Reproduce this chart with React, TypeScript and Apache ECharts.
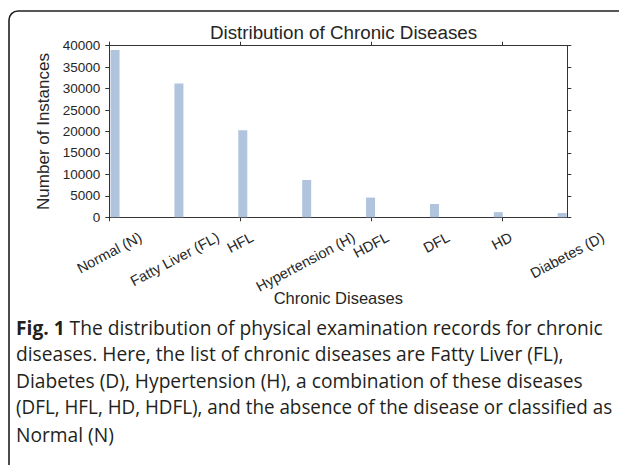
import React, { useEffect, useRef } from "react";
import * as echarts from "echarts";

const CATEGORIES = [
  "Normal (N)",
  "Fatty Liver (FL)",
  "HFL",
  "Hypertension (H)",
  "HDFL",
  "DFL",
  "HD",
  "Diabetes (D)",
];
const COUNTS = [39000, 31200, 20300, 8700, 4600, 3100, 1200, 1000];
const Y_MIN = 0;
const Y_MAX = 40000;
const Y_STEP = 5000;
const TITLE = "Distribution of Chronic Diseases";
const X_NAME = "Chronic Diseases";
const Y_NAME = "Number of Instances";
const CAPTION_BOLD = "Fig. 1";
const CAPTION_LINES = [
  " The distribution of physical examination records for chronic",
  "diseases. Here, the list of chronic diseases are Fatty Liver (FL),",
  "Diabetes (D), Hypertension (H), a combination of these diseases",
  "(DFL, HFL, HD, HDFL), and the absence of the disease or classified as",
  "Normal (N)",
];

const FONT = "'Liberation Sans', Arial, sans-serif";
const CAP_FONT = "'Open Sans', 'Noto Sans', sans-serif";
const AXIS_COLOR = "#333333";
const TEXT_COLOR = "#262626";
const BAR_COLOR = "#b0c4de";
const LABEL_SIZE = 14.5;
const LABEL_ROT = 28;
const CAP_SIZE = 19.2;
const CAP_MAX_W = 596;

export default function App() {
  const ref = useRef<HTMLDivElement>(null);
  useEffect(() => {
    if (!ref.current) return;
    const chart = echarts.init(ref.current, undefined, { renderer: "svg" });
    const axisLine = { show: true, onZero: false, lineStyle: { color: AXIS_COLOR, width: 1 } };
    const tick = { show: true, inside: false, length: 4, lineStyle: { color: AXIS_COLOR } };
    const option: any = {
      animation: false,
      backgroundColor: "#ffffff",
      title: {
        text: TITLE,
        left: 338.5,
        textAlign: "center",
        top: 18,
        textStyle: { fontFamily: FONT, fontSize: 18.8, fontWeight: "normal", color: TEXT_COLOR },
      },
      grid: { left: 109.3, top: 45.7, width: 458, height: 171.6, containLabel: false },
      xAxis: [
        {
          type: "category",
          position: "bottom",
          data: CATEGORIES,
          boundaryGap: false,
          axisLine,
          axisTick: tick,
          axisLabel: { show: false },
          splitLine: { show: false },
          name: X_NAME,
          nameLocation: "middle",
          nameGap: 72,
          nameTextStyle: { fontFamily: FONT, fontSize: 16.5, color: TEXT_COLOR },
        },
        {
          type: "category",
          position: "top",
          data: CATEGORIES,
          boundaryGap: false,
          axisLine,
          axisTick: tick,
          axisLabel: { show: false },
          splitLine: { show: false },
        },
        {
          type: "value",
          show: false,
          min: -0.09,
          max: 7.08,
          position: "bottom",
          axisLine: { onZero: false },
          splitLine: { show: false },
        },
      ],
      yAxis: [
        {
          type: "value",
          position: "left",
          min: Y_MIN,
          max: Y_MAX,
          interval: Y_STEP,
          axisLine,
          axisTick: tick,
          splitLine: { show: false },
          axisLabel: {
            margin: 9,
            fontFamily: FONT,
            fontSize: 13.5,
            color: TEXT_COLOR,
            formatter: (v: number) => String(v),
          },
          name: Y_NAME,
          nameLocation: "middle",
          nameGap: 56,
          nameTextStyle: { fontFamily: FONT, fontSize: 17, color: TEXT_COLOR },
        },
        {
          type: "value",
          position: "right",
          min: Y_MIN,
          max: Y_MAX,
          interval: Y_STEP,
          axisLine,
          axisTick: tick,
          splitLine: { show: false },
          axisLabel: { show: false },
        },
      ],
      series: [
        {
          type: "bar",
          xAxisIndex: 2,
          yAxisIndex: 0,
          barWidth: 9,
          data: COUNTS.map((v, i) => [i, v]),
          itemStyle: { color: BAR_COLOR },
          z: 1,
        },
      ],
    };
    chart.setOption(option);

    const canvas = document.createElement("canvas");
    const ctx = canvas.getContext("2d")!;
    ctx.font = `${LABEL_SIZE}px 'Liberation Sans'`;
    const y0 = chart.convertToPixel({ yAxisIndex: 0 }, 0) as number;
    const rad = (LABEL_ROT * Math.PI) / 180;
    const graphics: any[] = CATEGORIES.map((c, i) => {
      const x = chart.convertToPixel({ xAxisIndex: 0 }, i) as number;
      const w = ctx.measureText(c).width;
      const h = w * Math.sin(rad) + LABEL_SIZE * 0.9 * Math.cos(rad);
      return {
        type: "text",
        x,
        y: y0 + 13 + h / 2,
        rotation: rad,
        style: {
          text: c,
          fontFamily: FONT,
          fontSize: LABEL_SIZE,
          fill: TEXT_COLOR,
          align: "center",
          verticalAlign: "middle",
        },
      };
    });
    graphics.push({
      type: "rect",
      shape: { x: 9, y: 11, width: 700, height: 600, r: 9 },
      style: { fill: "none", stroke: "#231f20", lineWidth: 1.6 },
      silent: true,
    });
    CAPTION_LINES.forEach((line, i) => {
      const full = i === 0 ? CAPTION_BOLD + line : line;
      ctx.font = `${CAP_SIZE}px 'Open Sans'`;
      let w = ctx.measureText(full).width;
      if (i === 0) {
        ctx.font = `bold ${CAP_SIZE}px 'Open Sans'`;
        const bw = ctx.measureText(CAPTION_BOLD).width;
        ctx.font = `${CAP_SIZE}px 'Open Sans'`;
        w = bw + ctx.measureText(line).width;
      }
      const sx = w > CAP_MAX_W ? CAP_MAX_W / w : 1;
      graphics.push({
        type: "text",
        x: 16,
        y: 327 + i * 26.8,
        scaleX: sx,
        style: {
          text: i === 0 ? `{b|${CAPTION_BOLD}}${line}` : line,
          fontFamily: CAP_FONT,
          fontSize: CAP_SIZE,
          fill: "#231f20",
          verticalAlign: "middle",
          rich: {
            b: { fontFamily: CAP_FONT, fontSize: CAP_SIZE, fontWeight: "bold", fill: "#231f20" },
          },
        },
      });
    });
    chart.setOption({ graphic: graphics });
    return () => chart.dispose();
  }, []);
  return <div ref={ref} style={{ width: 619, height: 465, position: "absolute", left: 0, top: 0 }} />;
}
